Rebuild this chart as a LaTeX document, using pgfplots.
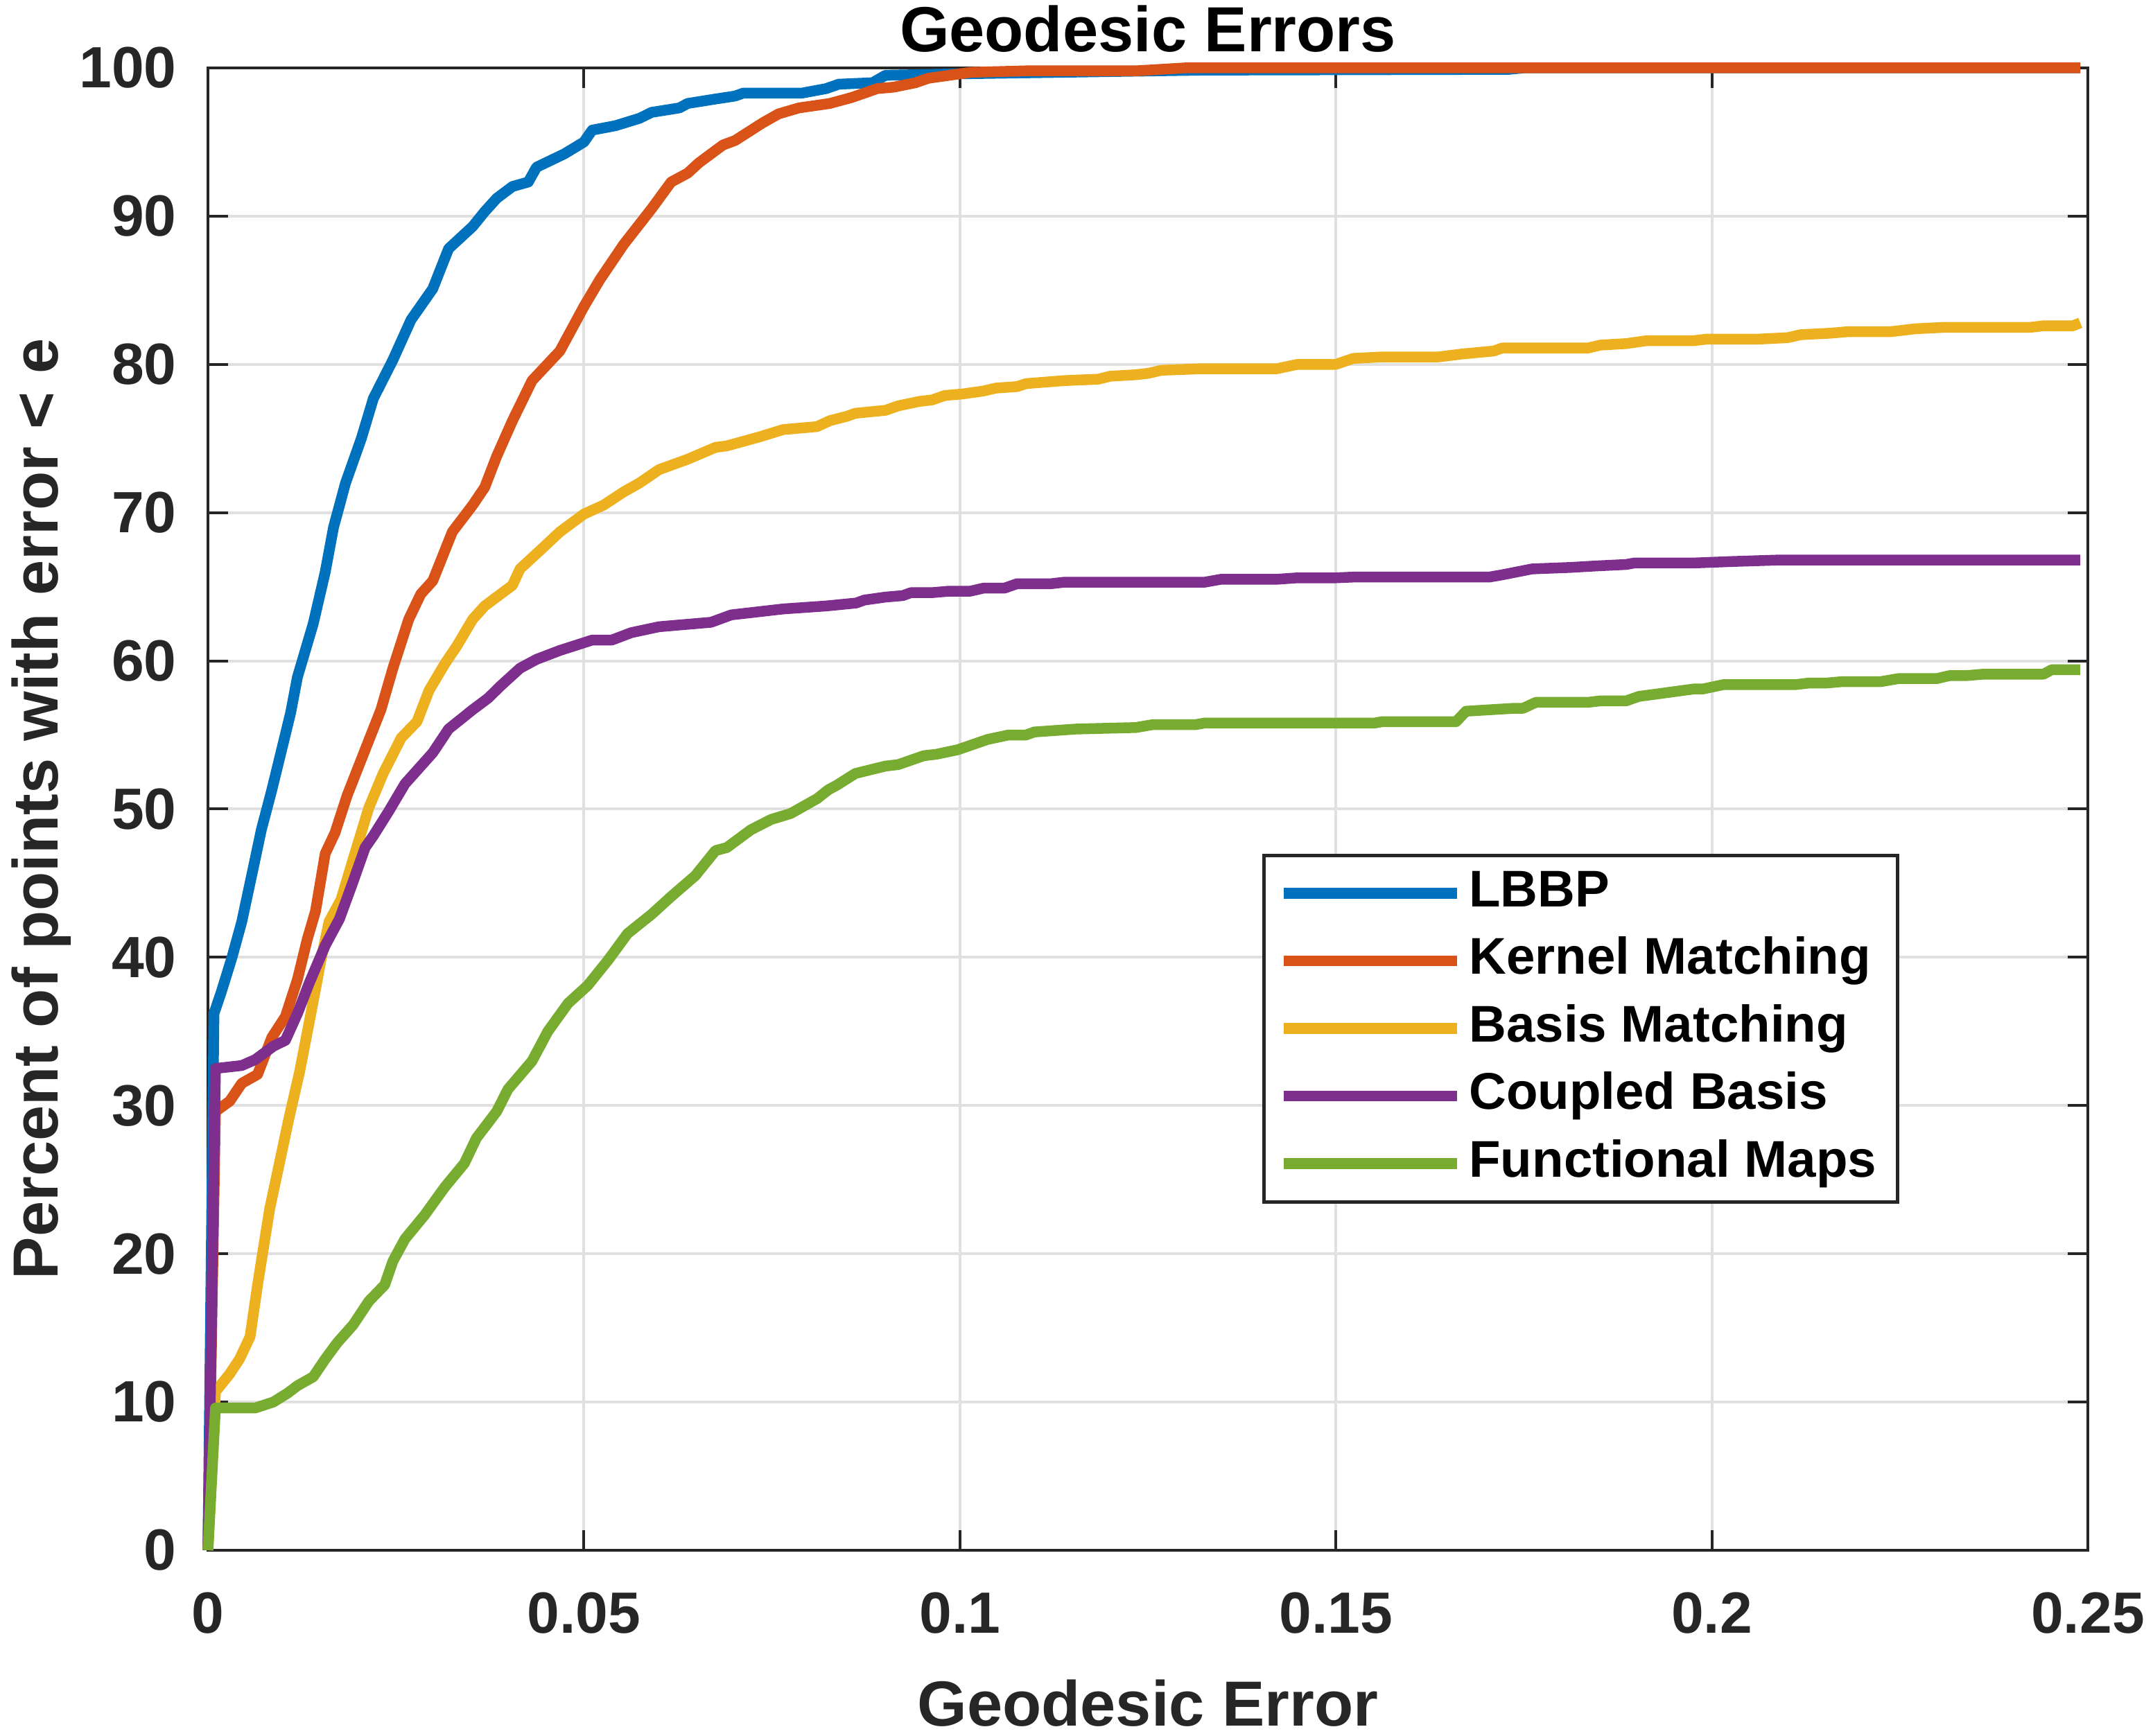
\documentclass[border=0pt]{standalone}
\usepackage{fontspec}
\setmainfont{Liberation Sans}
\usepackage{pgfplots}
\pgfplotsset{compat=1.18}
\definecolor{cblue}{rgb}{0,0.447,0.741}
\definecolor{corange}{rgb}{0.85,0.325,0.098}
\definecolor{cyellow}{rgb}{0.929,0.694,0.125}
\definecolor{cpurple}{rgb}{0.494,0.184,0.556}
\definecolor{cgreen}{rgb}{0.466,0.674,0.188}
\begin{document}
\begin{tikzpicture}
\begin{axis}[name=ax, at={(0,0)}, anchor=south west,
  scale only axis, width=271.2pt, height=213.9pt,
  xmin=0, xmax=0.25, ymin=0, ymax=100, clip=false,
  xtick={0,0.05,0.1,0.15,0.2,0.25}, xticklabels={0,0.05,0.1,0.15,0.2,0.25},
  ytick={0,10,20,30,40,50,60,70,80,90,100},
  yticklabels={0,10,20,30,40,50,60,70,80,90,100},
  tick align=inside, major tick length=2.9pt,
  tick style={black!85, line width=0.4pt},
  axis line style={black!85, line width=0.4pt},
  grid=major, major grid style={black!12, line width=0.4pt},
  ticklabel style={font=\fontsize{8.4}{10}\selectfont\bfseries, text=black!85},
  xticklabel style={yshift=-2.6pt},
  yticklabel style={xshift=-1.0pt},
  xlabel={Geodesic Error},
  ylabel={Percent of points with error < e},
  xlabel style={at={(axis description cs:0.5,-0.1187)}, anchor=base, font=\fontsize{9.2}{11}\selectfont\bfseries, text=black!85},
  ylabel style={at={(axis description cs:-0.080,0.5)}, anchor=base, font=\fontsize{9.2}{11}\selectfont\bfseries, text=black!85},
  title={Geodesic Errors},
  every axis title shift=0pt,
  title style={at={(axis description cs:0.5,1)}, anchor=base, yshift=2.3pt, font=\fontsize{9.2}{11}\selectfont\bfseries},
  legend style={at={(rel axis cs:0.561,0.470)}, anchor=north west, draw=black!85, line width=0.5pt, fill=white,
    inner xsep=2pt, inner ysep=1.0pt, row sep=0.75pt,
    font=\fontsize{7.45}{9}\selectfont\bfseries,
    nodes={inner sep=1pt, text height=5.4pt, text depth=1.6pt}},
  legend cell align=left,
  legend image code/.code={\draw[#1, line width=1.55pt] (0pt,0pt) -- (25pt,0pt);},
  every axis plot/.append style={line width=1.55pt, line join=round}
]
\addplot[cblue] coordinates {
(0,0) (0.0008,36.2) (0.0018,37.7) (0.0032,40.0) (0.0045,42.4) (0.0061,46.2) (0.0071,48.6)
(0.0085,51.3) (0.0098,54.0) (0.0110,56.5) (0.0119,58.9) (0.0140,62.5) (0.0156,66.0) (0.0167,69.0)
(0.0183,72.0) (0.0204,75.0) (0.0220,77.7) (0.0246,80.3) (0.0270,83.0) (0.0299,85.1) (0.0320,87.8)
(0.0352,89.3) (0.0368,90.3) (0.0384,91.2) (0.0405,92.0) (0.0426,92.3) (0.0437,93.3) (0.0474,94.2)
(0.0500,95.0) (0.0511,95.8) (0.0542,96.1) (0.0574,96.6) (0.0590,97.0) (0.0627,97.3) (0.0638,97.6)
(0.0675,97.9) (0.0701,98.1) (0.0712,98.3) (0.0790,98.3) (0.0822,98.6) (0.0839,98.9) (0.0884,99.0)
(0.0901,99.5) (0.1000,99.6) (0.1133,99.7) (0.1325,99.85) (0.1730,99.9) (0.1750,100) (0.2490,100)
};
\addlegendentry{LBBP}
\addplot[corange] coordinates {
(0,0) (0.0010,29.6) (0.0029,30.3) (0.0045,31.5) (0.0066,32.1) (0.0085,34.6) (0.0103,36.0)
(0.0119,38.5) (0.0132,41.2) (0.0143,43.1) (0.0156,47.0) (0.0169,48.4) (0.0185,50.9) (0.0209,54.0)
(0.0230,56.7) (0.0246,59.5) (0.0267,62.8) (0.0283,64.5) (0.0299,65.4) (0.0325,68.7) (0.0352,70.5)
(0.0368,71.7) (0.0384,73.8) (0.0405,76.2) (0.0431,78.9) (0.0468,80.9) (0.0500,83.9) (0.0521,85.7)
(0.0553,88.1) (0.0590,90.5) (0.0616,92.3) (0.0638,92.9) (0.0653,93.6) (0.0685,94.8) (0.0701,95.1)
(0.0738,96.3) (0.0759,96.9) (0.0786,97.3) (0.0827,97.6) (0.0856,98.0) (0.0890,98.6) (0.0912,98.7)
(0.0941,99.0) (0.0958,99.3) (0.0986,99.5) (0.1014,99.7) (0.1088,99.8) (0.1234,99.8) (0.1300,100)
(0.2490,100)
};
\addlegendentry{Kernel Matching}
\addplot[cyellow] coordinates {
(0,0) (0.0010,10.7) (0.0029,11.9) (0.0042,12.9) (0.0056,14.4) (0.0066,17.9) (0.0082,23.0)
(0.0095,26.1) (0.0108,29.2) (0.0122,32.3) (0.0138,36.5) (0.0151,40.0) (0.0161,42.4) (0.0177,43.9)
(0.0193,46.6) (0.0214,50.1) (0.0233,52.4) (0.0257,54.8) (0.0278,55.9) (0.0294,58.0) (0.0315,59.8)
(0.0331,61.0) (0.0352,62.8) (0.0368,63.7) (0.0405,65.1) (0.0415,66.2) (0.0447,67.7) (0.0468,68.7)
(0.0500,69.9) (0.0526,70.5) (0.0553,71.4) (0.0574,72.0) (0.0600,72.9) (0.0638,73.6) (0.0675,74.4)
(0.0690,74.5) (0.0733,75.1) (0.0765,75.6) (0.0810,75.8) (0.0827,76.2) (0.0850,76.5) (0.0861,76.7)
(0.0901,76.9) (0.0918,77.2) (0.0946,77.5) (0.0963,77.6) (0.0980,77.9) (0.1003,78.0) (0.1031,78.2)
(0.1048,78.4) (0.1076,78.5) (0.1088,78.7) (0.1138,78.9) (0.1184,79.0) (0.1200,79.2) (0.1234,79.3)
(0.1251,79.4) (0.1268,79.6) (0.1319,79.7) (0.1421,79.7) (0.1449,80.0) (0.1500,80.0) (0.1523,80.4)
(0.1562,80.5) (0.1636,80.5) (0.1668,80.7) (0.1710,80.9) (0.1721,81.1) (0.1835,81.1) (0.1852,81.3)
(0.1886,81.4) (0.1914,81.6) (0.1976,81.6) (0.1993,81.7) (0.2061,81.7) (0.2101,81.8) (0.2118,82.0)
(0.2157,82.1) (0.2180,82.2) (0.2237,82.2) (0.2271,82.4) (0.2310,82.5) (0.2424,82.5) (0.2441,82.6)
(0.2480,82.6) (0.2490,82.8)
};
\addlegendentry{Basis Matching}
\addplot[cpurple] coordinates {
(0,0) (0.0010,32.5) (0.0045,32.7) (0.0063,33.1) (0.0087,34.0) (0.0103,34.4) (0.0119,36.2)
(0.0135,38.3) (0.0156,40.8) (0.0175,42.6) (0.0193,45.1) (0.0209,47.4) (0.0220,48.2) (0.0241,49.9)
(0.0262,51.7) (0.0299,53.8) (0.0320,55.4) (0.0352,56.7) (0.0373,57.5) (0.0389,58.3) (0.0415,59.5)
(0.0437,60.1) (0.0468,60.7) (0.0511,61.4) (0.0537,61.4) (0.0563,61.9) (0.0600,62.3) (0.0669,62.6)
(0.0696,63.1) (0.0765,63.5) (0.0822,63.7) (0.0862,63.9) (0.0873,64.1) (0.0901,64.3) (0.0924,64.4)
(0.0935,64.6) (0.0963,64.6) (0.0986,64.7) (0.1014,64.7) (0.1031,64.9) (0.1059,64.9) (0.1076,65.2)
(0.1121,65.2) (0.1138,65.3) (0.1325,65.3) (0.1347,65.5) (0.1421,65.5) (0.1449,65.6) (0.1500,65.6)
(0.1523,65.65) (0.1704,65.65) (0.1721,65.8) (0.1761,66.2) (0.1812,66.3) (0.1846,66.4) (0.1886,66.5)
(0.1897,66.6) (0.1976,66.6) (0.2027,66.7) (0.2089,66.8) (0.2490,66.8)
};
\addlegendentry{Coupled Basis}
\addplot[cgreen] coordinates {
(0,0) (0.0010,9.6) (0.0063,9.6) (0.0087,10.0) (0.0106,10.6) (0.0119,11.1) (0.0140,11.7)
(0.0156,12.9) (0.0172,14.0) (0.0193,15.2) (0.0214,16.8) (0.0235,17.9) (0.0246,19.5) (0.0262,21.0)
(0.0288,22.6) (0.0315,24.5) (0.0341,26.1) (0.0357,27.8) (0.0384,29.6) (0.0399,31.1) (0.0431,33.0)
(0.0452,35.0) (0.0479,36.9) (0.0505,38.1) (0.0532,39.8) (0.0558,41.6) (0.0590,42.9) (0.0616,44.1)
(0.0648,45.5) (0.0675,47.2) (0.0690,47.4) (0.0722,48.6) (0.0749,49.3) (0.0775,49.7) (0.0810,50.7)
(0.0825,51.3) (0.0836,51.6) (0.0861,52.4) (0.0901,52.9) (0.0918,53.0) (0.0952,53.6) (0.0969,53.7)
(0.0997,54.0) (0.1037,54.7) (0.1065,55.0) (0.1088,55.0) (0.1099,55.2) (0.1155,55.4) (0.1234,55.5)
(0.1257,55.7) (0.1314,55.7) (0.1325,55.8) (0.1551,55.8) (0.1562,55.9) (0.1660,55.9) (0.1673,56.6)
(0.1738,56.8) (0.1749,56.8) (0.1766,57.2) (0.1835,57.2) (0.1852,57.3) (0.1886,57.3) (0.1903,57.6)
(0.1976,58.1) (0.1988,58.1) (0.2016,58.4) (0.2112,58.4) (0.2129,58.5) (0.2152,58.5) (0.2174,58.6)
(0.2225,58.6) (0.2248,58.8) (0.2299,58.8) (0.2316,59.0) (0.2338,59.0) (0.2361,59.1) (0.2441,59.1)
(0.2452,59.4) (0.2490,59.4)
};
\addlegendentry{Functional Maps}
\end{axis}
\pgfresetboundingbox
\useasboundingbox ([shift={(-30pt,-26.8pt)}]ax.south west) rectangle ([shift={(9.4pt,9.8pt)}]ax.north east);
\end{tikzpicture}
\end{document}
